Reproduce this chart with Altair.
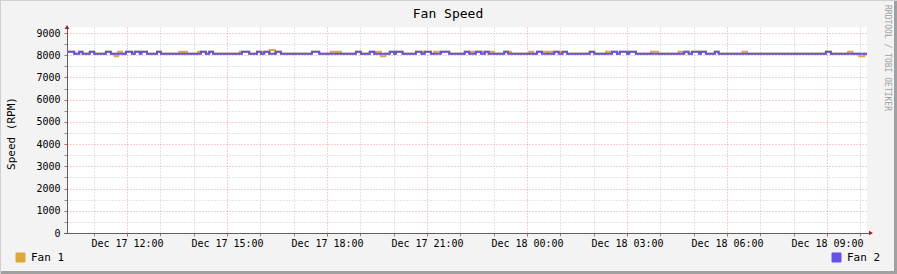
import altair as alt
import pandas as pd
from datetime import datetime, timezone

# ---------------- data ----------------
START = datetime(2013, 12, 17, 10, 12, tzinfo=timezone.utc)
START_MS = int(START.timestamp() * 1000)
SPAN_MIN = 1440
END_MS = START_MS + SPAN_MIN * 60000

chart_title = "Fan Speed"
y_title = "Speed (RPM)"
credit_text = "RRDTOOL / TOBI OETIKER"

series_names = ["Fan 1", "Fan 2"]
series_colors = ["#DCA83A", "#6650E6"]

base_rpm = 8070      # resting level of both fans
bump_rpm = 8160      # short step up
dip_rpm = 7950       # short step down (Fan 1)
peak_rpm = 8240      # highest Fan 1 reading

# Fan 2 step-ups: start / end minute after 10:12 on Dec 17
fan2_up_start = [0, 22, 41, 70, 106, 122, 134, 162, 241, 256, 315, 342, 355, 376, 441,
                 520, 545, 581, 592, 628, 644, 673, 716, 736, 752, 787, 846, 877, 892,
                 941, 981, 995, 1012, 1111, 1125, 1141, 1166, 1366]
fan2_up_end = [13, 28, 49, 79, 117, 131, 144, 169, 250, 263, 328, 349, 364, 385, 454,
               529, 553, 589, 604, 638, 655, 688, 724, 745, 759, 794, 855, 885, 900,
               949, 990, 1008, 1024, 1119, 1138, 1150, 1173, 1375]

# Fan 1 own readings (where it differs from the resting level)
fan1_ev_start = [86, 92, 202, 211, 236, 311, 352, 365, 475, 486, 556, 565, 641, 661,
                 725, 745, 761, 794, 832, 855, 866, 885, 970, 1051, 1101, 1216, 1406, 1426]
fan1_ev_end = [92, 99, 208, 216, 241, 316, 358, 374, 484, 493, 565, 573, 648, 675,
               734, 751, 769, 799, 839, 864, 874, 891, 980, 1064, 1108, 1224, 1414, 1435]
fan1_ev_value = [dip_rpm, bump_rpm, bump_rpm, bump_rpm, bump_rpm, bump_rpm, bump_rpm, peak_rpm,
                 bump_rpm, bump_rpm, bump_rpm, dip_rpm, bump_rpm, bump_rpm, bump_rpm, bump_rpm,
                 bump_rpm, bump_rpm, bump_rpm, bump_rpm, bump_rpm, bump_rpm, bump_rpm, bump_rpm,
                 bump_rpm, bump_rpm, bump_rpm, dip_rpm]


def change_points(events):
    vals = [base_rpm] * (SPAN_MIN + 1)
    for s, e, v in events:
        for m in range(s, min(e, SPAN_MIN + 1)):
            vals[m] = v
    pts, prev = [], None
    for m, v in enumerate(vals):
        if v != prev:
            pts.append((m, v))
            prev = v
    pts.append((SPAN_MIN, vals[-1]))
    return pts


fan2_events = [(s, e, bump_rpm) for s, e in zip(fan2_up_start, fan2_up_end)]
fan1_events = fan2_events + list(zip(fan1_ev_start, fan1_ev_end, fan1_ev_value))

rows = []
for name, evs in zip(series_names, [fan1_events, fan2_events]):
    for m, v in change_points(evs):
        rows.append({"t": START_MS + m * 60000, "rpm": v, "series": name})
df = pd.DataFrame(rows)

y_tick_values = list(range(0, 9001, 500))
x_tick_values = [START_MS + (48 + 60 * h) * 60000 for h in range(24)]  # every full hour

FONT = "DejaVu Sans Mono"
MAJOR = "#E8A0A0"
MINOR = "#C8C8C8"
IS_MAJOR_HOUR = "utchours(datum.value) % 3 == 0"

x_enc = alt.X(
    "t:T",
    scale=alt.Scale(type="utc", domain=[START_MS, END_MS], nice=False),
    axis=alt.Axis(
        values=x_tick_values,
        title=None,
        grid=True,
        gridDash=[1, 2],
        gridColor={"condition": {"test": IS_MAJOR_HOUR, "value": MAJOR}, "value": MINOR},
        tickColor={"condition": {"test": IS_MAJOR_HOUR, "value": "#D06060"}, "value": "#909090"},
        tickSize=3,
        domainColor="#606060",
        labelExpr=IS_MAJOR_HOUR + " ? utcFormat(datum.value, '%b %d %H:%M') : ''",
        labelFont=FONT,
        labelFontSize=10,
        labelColor="#000000",
        labelPadding=2,
        labelOverlap=False,
        labelFlush=False,
    ),
)

y_enc = alt.Y(
    "rpm:Q",
    scale=alt.Scale(domain=[0, 9270], nice=False, zero=True),
    axis=alt.Axis(
        values=y_tick_values,
        title=y_title,
        titleFont=FONT,
        titleFontSize=11,
        titleFontWeight="normal",
        titleColor="#000000",
        titleAngle=270,
        titleAlign="center",
        titleBaseline="middle",
        titleX=-56,
        titleY=106,
        grid=True,
        gridDash=[1, 2],
        gridColor={"condition": {"test": "datum.value % 1000 == 0", "value": MAJOR}, "value": MINOR},
        tickColor={"condition": {"test": "datum.value % 1000 == 0", "value": "#D06060"}, "value": "#909090"},
        tickSize=3,
        domainColor="#606060",
        labelExpr="datum.value % 1000 == 0 ? format(datum.value, 'd') : ''",
        labelFont=FONT,
        labelFontSize=10,
        labelColor="#000000",
        labelPadding=4,
        labelOverlap=False,
        labelFlush=False,
    ),
)


def fan_layer(i, lx):
    return (
        alt.Chart(df)
        .transform_filter(alt.datum.series == series_names[i])
        .mark_line(interpolate="step-after", strokeWidth=2)
        .encode(
            x=x_enc,
            y=y_enc,
            color=alt.Color(
                "series:N",
                scale=alt.Scale(domain=[series_names[i]], range=[series_colors[i]]),
                legend=alt.Legend(
                    orient="none",
                    legendX=lx,
                    legendY=225,
                    title=None,
                    padding=0,
                    symbolType="square",
                    symbolSize=81,
                    symbolFillColor=series_colors[i],
                    symbolStrokeColor="#000000",
                    symbolStrokeWidth=1,
                    symbolOpacity=1,
                    labelFont=FONT,
                    labelFontSize=11,
                    labelColor="#000000",
                    labelOffset=5,
                ),
            ),
        )
    )


one = pd.DataFrame({"k": [0]})

title_mark = alt.Chart(one).mark_text(
    align="center", baseline="alphabetic", font=FONT, fontSize=13, color="#000000"
).encode(x=alt.value(381), y=alt.value(-9.5), text=alt.value(chart_title))

credit = alt.Chart(one).mark_text(
    angle=90, align="left", baseline="middle", font=FONT, fontSize=8, color="#A0A0A0"
).encode(x=alt.value(820), y=alt.value(-22), text=alt.value(credit_text))

arrow_up = alt.Chart(one).mark_point(shape="triangle-up", filled=True, size=22, color="#A02020", opacity=1).encode(
    x=alt.value(0), y=alt.value(0))
arrow_right = alt.Chart(one).mark_point(shape="triangle-right", filled=True, size=22, color="#A02020", opacity=1).encode(
    x=alt.value(804), y=alt.value(206))
x_axis_ext = alt.Chart(one).mark_rule(color="#606060", strokeWidth=1).encode(
    x=alt.value(-3), x2=alt.value(803), y=alt.value(206.5))

border_right = alt.Chart(one).mark_rect(color="#A0A0A0").encode(
    x=alt.value(827), x2=alt.value(830), y=alt.value(-27), y2=alt.value(247))
border_bottom = alt.Chart(one).mark_rect(color="#A0A0A0").encode(
    x=alt.value(-67), x2=alt.value(830), y=alt.value(244), y2=alt.value(247))
border_top = alt.Chart(one).mark_rect(color="#D0D0D0").encode(
    x=alt.value(-67), x2=alt.value(830), y=alt.value(-27), y2=alt.value(-26))
border_left = alt.Chart(one).mark_rect(color="#D0D0D0").encode(
    x=alt.value(-67), x2=alt.value(-66), y=alt.value(-27), y2=alt.value(247))

chart = (
    alt.layer(
        fan_layer(0, -52),
        fan_layer(1, 764),
        x_axis_ext,
        arrow_up,
        arrow_right,
        title_mark,
        credit,
        border_right,
        border_bottom,
        border_top,
        border_left,
    )
    .resolve_scale(color="independent")
    .properties(
        width=800,
        height=206,
        autosize=alt.AutoSizeParams(type="none"),
        padding={"left": 67, "top": 27, "right": 30, "bottom": 41},
    )
    .configure(background="#F3F3F3")
    .configure_view(fill="#FFFFFF", stroke=None)
)

chart.save("out.html", embed_options={"renderer": "svg", "actions": False})
